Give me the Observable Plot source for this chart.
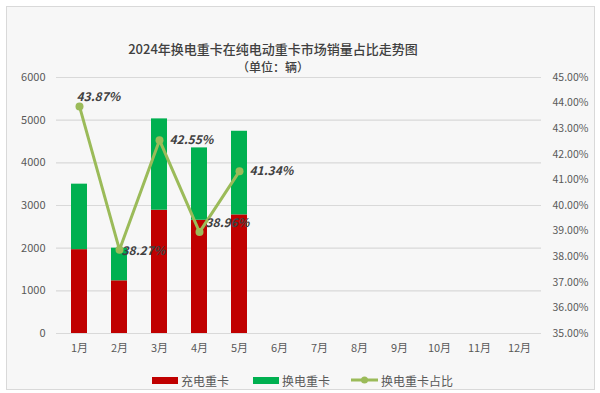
<!DOCTYPE html>
<html><head><meta charset="utf-8">
<script src="https://cdn.jsdelivr.net/npm/d3@7"></script>
<script src="https://cdn.jsdelivr.net/npm/@observablehq/plot@0.6"></script>
<style>
html,body{margin:0;padding:0;background:#fff;}
#wrap{position:relative;width:600px;height:393px;font-family:"Noto Sans CJK SC","Noto Sans",sans-serif;}
#frame{position:absolute;left:6px;top:6px;width:589px;height:384px;background:#F7F7F7;border:1px solid #D9D9D9;box-sizing:border-box;}
#title{position:absolute;left:0;width:546px;top:40px;text-align:center;font-size:13px;font-weight:500;color:#404040;line-height:18px;}
#sub{position:absolute;left:0;width:546px;top:58px;text-align:center;font-size:12px;font-weight:500;color:#404040;line-height:18px;}
#chart{position:absolute;left:0;top:0;}
#legend{position:absolute;top:372px;left:0;width:600px;font-size:12px;color:#595959;}
.lg{position:absolute;top:0;display:flex;align-items:center;height:16px;}
.sw{display:inline-block;width:26px;height:7px;margin-right:3px;}
</style></head>
<body>
<div id="wrap">
<div id="frame"></div>
<div id="chart"></div>
<div id="title">2024年换电重卡在纯电动重卡市场销量占比走势图</div>
<div id="sub">（单位：辆）</div>
<div id="legend">
 <div class="lg" style="left:152px"><span class="sw" style="background:#C00000"></span>充电重卡</div>
 <div class="lg" style="left:253px"><span class="sw" style="background:#00B050"></span>换电重卡</div>
 <div class="lg" style="left:351px"><svg width="27" height="10" style="margin-right:3px"><line x1="0" y1="5" x2="27" y2="5" stroke="#9BBB59" stroke-width="3"/><circle cx="13.5" cy="5" r="3.5" fill="#9BBB59"/></svg>换电重卡占比</div>
</div>
</div>
<script>
const months = ["1月","2月","3月","4月","5月","6月","7月","8月","9月","10月","11月","12月"];
const dataMonths = ["1月","2月","3月","4月","5月"];
const chargeTrucks = [1965, 1235, 2890, 2655, 2780];
const swapTrucks = [1535, 765, 2140, 1695, 1960];
const swapShare = [43.87, 38.27, 42.55, 38.96, 41.34];
const leftTicks = [0,1000,2000,3000,4000,5000,6000];
const rightTicks = [35,36,37,38,39,40,41,42,43,44,45];
const seriesNames = ["充电重卡","换电重卡"];

const toLeft = p => (p - 35) * 600; // map 35%–45% onto 0–6000

const bars = [];
dataMonths.forEach((m,i)=>{
  bars.push({month:m, series:seriesNames[0], value:chargeTrucks[i]});
  bars.push({month:m, series:seriesNames[1], value:swapTrucks[i]});
});
const shares = dataMonths.map((m,i)=>({month:m, share:swapShare[i]}));
const labelDx = [-3, 2, 10, 6, 10];
const labelDy = [-9, 1, 0, -9, 0];

const chart = Plot.plot({
  width: 600, height: 393,
  marginTop: 77, marginBottom: 60, marginLeft: 56, marginRight: 59,
  style: {background: "transparent", fontFamily: '"Noto Sans CJK SC","Noto Sans",sans-serif'},
  x: {domain: months, paddingInner: 0.6, paddingOuter: 0.3, label: null},
  y: {domain: [0, 6000], label: null},
  color: {domain: seriesNames, range: ["#C00000","#00B050"]},
  marks: [
    Plot.gridY(leftTicks, {stroke: "#D9D9D9", strokeOpacity: 1, strokeWidth: 1.2}),
    Plot.axisY({ticks: leftTicks, tickFormat: d => String(d), tickSize: 0, tickPadding: 11, fontSize: 11, fill: "#595959", label: null}),
    Plot.axisY({anchor: "right", ticks: rightTicks.map(toLeft), tickFormat: v => (v/600 + 35).toFixed(2) + "%", tickSize: 0, tickPadding: 11, fontSize: 10.5, fill: "#595959", label: null}),
    Plot.axisX({tickSize: 0, tickPadding: 11, fontSize: 11, fill: "#595959", label: null}),
    Plot.barY(bars, {x: "month", y: "value", fill: "series", order: seriesNames}),
    Plot.line(shares, {x: "month", y: d => toLeft(d.share), stroke: "#9BBB59", strokeWidth: 3}),
    Plot.dot(shares, {x: "month", y: d => toLeft(d.share), r: 4, fill: "#9BBB59"}),
    ...shares.map((d,i) => Plot.text([d], {x: "month", y: e => toLeft(e.share), text: e => e.share.toFixed(2) + "%", textAnchor: "start", dx: labelDx[i], dy: labelDy[i], fontSize: 12, fontWeight: "bold", fontStyle: "italic", fill: "#404040"}))
  ]
});
document.getElementById("chart").appendChild(chart);
</script>
</body></html>
